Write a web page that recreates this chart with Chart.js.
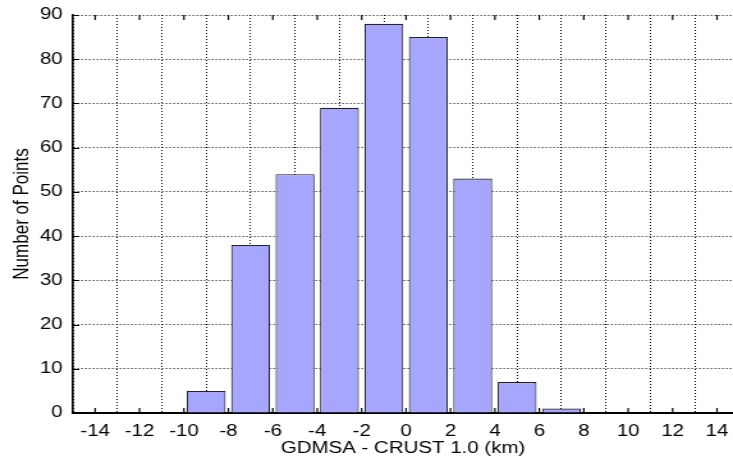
<!DOCTYPE html>
<html>
<head>
<meta charset="utf-8">
<script src="https://cdn.jsdelivr.net/npm/chart.js@4/dist/chart.umd.min.js"></script>
<style>
  html, body { margin: 0; padding: 0; background: #fff; overflow: hidden; }
  #hist { display: block; width: 733px; height: 459px; }
</style>
</head>
<body>
<!-- drawn on a 573px-wide canvas and widened to 733px for display -->
<canvas id="hist" width="573" height="459" style="width:733px;height:459px"></canvas>
<script>
// Histogram of elevation differences, 2 km bins
const binCenters = [-9, -7, -5, -3, -1, 1, 3, 5, 7];
const counts = [5, 38, 54, 69, 88, 85, 53, 7, 1];
const xTicks = [-14, -12, -10, -8, -6, -4, -2, 0, 2, 4, 6, 8, 10, 12, 14];
const yTicks = [0, 10, 20, 30, 40, 50, 60, 70, 80, 90];

const FONT = 'Liberation Sans, Arial, Helvetica, sans-serif';

// short inward tick marks on the frame
const innerTicks = {
  id: 'innerTicks',
  afterDraw(chart) {
    const {ctx, chartArea: a, scales: {x, y}} = chart;
    ctx.save();
    ctx.strokeStyle = '#000';
    ctx.lineWidth = 1.2;
    ctx.beginPath();
    xTicks.forEach(v => {
      const px = x.getPixelForValue(v);
      ctx.moveTo(px, a.bottom); ctx.lineTo(px, a.bottom - 5);
      ctx.moveTo(px, a.top); ctx.lineTo(px, a.top + 5);
    });
    yTicks.forEach(v => {
      const py = Math.round(y.getPixelForValue(v)) + 0.5;
      ctx.moveTo(a.left, py); ctx.lineTo(a.left + 5, py);
    });
    ctx.stroke();
    ctx.restore();
  }
};

new Chart(document.getElementById('hist'), {
  type: 'bar',
  data: {
    datasets: [{
      data: binCenters.map((c, i) => ({x: c, y: counts[i]})),
      backgroundColor: '#a6a6ff',
      borderColor: '#222',
      borderWidth: 1.1,
      barPercentage: 0.875,
      categoryPercentage: 1
    }]
  },
  options: {
    responsive: false,
    devicePixelRatio: 1,
    animation: false,
    layout: { padding: { top: 15, right: 0, left: 0, bottom: 0 } },
    plugins: { legend: { display: false }, tooltip: { enabled: false } },
    scales: {
      x: {
        type: 'linear',
        offset: false,
        min: -15,
        max: 14.72,
        afterBuildTicks(s) { s.ticks = xTicks.map(v => ({value: v})); },
        afterFit(s) { s.height = 46; s.paddingLeft = 0; s.paddingRight = 0; },
        ticks: { color: '#000', font: { family: FONT, size: 16 }, padding: 9, maxRotation: 0, autoSkip: false },
        grid: { color: '#000', lineWidth: 1, drawTicks: false },
        border: { display: true, color: '#000', width: 2, dash: [1, 2] },
        title: { display: true, text: 'GDMSA - CRUST 1.0 (km)', color: '#000', font: { family: FONT, size: 16 }, padding: { top: 0, bottom: 1 } }
      },
      y: {
        min: 0,
        max: 90,
        afterBuildTicks(s) { s.ticks = yTicks.map(v => ({value: v})); },
        afterFit(s) { s.width = 57; s.paddingTop = 0; s.paddingBottom = 0; },
        ticks: { color: '#000', font: { family: FONT, size: 16 }, padding: 8 },
        grid: { color: '#000', lineWidth: 1, drawTicks: false },
        border: { display: true, color: '#000', width: 1.6, dash: [1, 2] },
        title: { display: true, text: 'Number of Points', color: '#000', font: { family: FONT, size: 17 }, padding: { top: 7, bottom: 0 } }
      }
    }
  },
  plugins: [innerTicks]
});
</script>
</body>
</html>
